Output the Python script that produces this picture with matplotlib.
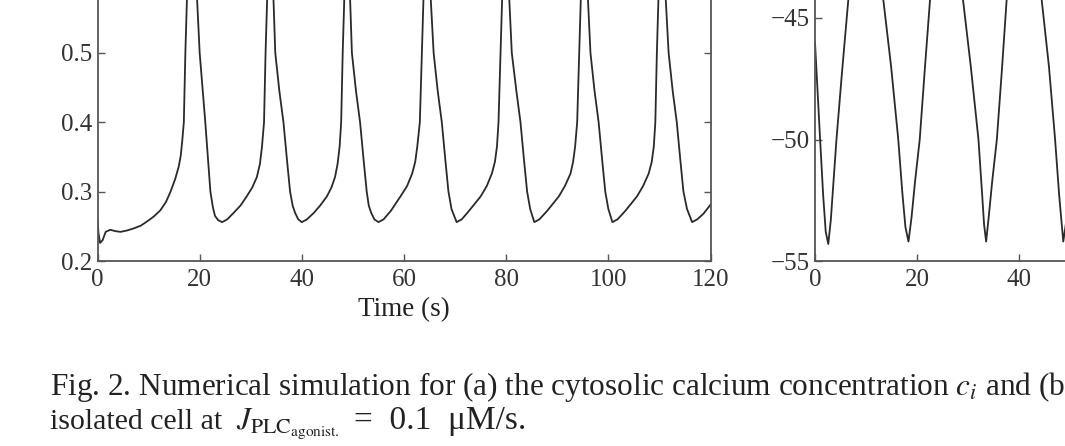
import matplotlib
matplotlib.use("Agg")
import matplotlib.pyplot as plt

# ---- data ----
# (a) cytosolic calcium concentration c_i (uM) vs time (s)
ca_time = [0.0, 0.2, 0.5, 1.0, 1.6, 2.5, 3.5, 4.5, 5.8, 7.1, 8.5, 9.7, 11.0, 12.3, 13.4, 14.3,
           15.2, 15.9, 16.3, 16.6, 16.9, 17.2, 17.6, 18.3, 18.9, 19.5, 20.0, 20.6, 21.1, 21.6,
           22.1, 22.6, 23.0, 23.6, 24.4, 25.4, 26.6, 28.0, 29.2, 30.3, 31.2, 31.8, 32.2, 32.6,
           32.9, 33.3, 33.8, 34.3, 34.8, 35.6, 36.4, 37.1, 37.7, 38.2, 38.7, 39.3, 40.0, 41.0,
           42.3, 43.6, 44.9, 45.8, 46.5, 47.0, 47.4, 47.7, 48.0, 48.4, 48.8, 49.3, 49.8, 50.6,
           51.4, 52.1, 52.7, 53.1, 53.6, 54.2, 55.0, 56.0, 57.4, 59.3, 60.6, 61.6, 62.2, 62.6,
           63.1, 63.5, 63.9, 64.4, 65.0, 65.8, 66.6, 67.4, 68.1, 68.7, 69.3, 70.3, 71.3, 72.7,
           75.0, 76.2, 77.2, 77.8, 78.2, 78.5, 78.9, 79.3, 79.7, 80.4, 81.1, 82.0, 82.8, 83.5,
           84.1, 84.7, 85.5, 86.5, 88.0, 90.3, 91.5, 92.6, 93.1, 93.5, 93.9, 94.3, 94.7, 95.1,
           95.8, 96.5, 97.3, 98.1, 98.8, 99.4, 100.0, 100.8, 101.8, 103.3, 105.6, 106.8, 107.9,
           108.5, 108.9, 109.2, 109.5, 109.9, 110.3, 111.0, 111.8, 112.6, 113.4, 114.1, 114.7,
           115.4, 116.4, 117.4, 118.6, 120.0]
ca_conc = [0.259, 0.240, 0.226, 0.230, 0.242, 0.245, 0.243, 0.242, 0.244, 0.247, 0.251, 0.257,
           0.264, 0.273, 0.285, 0.300, 0.318, 0.336, 0.352, 0.374, 0.400, 0.500, 0.600, 0.720,
           0.650, 0.576, 0.500, 0.445, 0.400, 0.350, 0.300, 0.277, 0.265, 0.259, 0.256, 0.260,
           0.269, 0.280, 0.293, 0.306, 0.321, 0.340, 0.365, 0.400, 0.500, 0.600, 0.720, 0.610,
           0.500, 0.445, 0.400, 0.345, 0.300, 0.280, 0.269, 0.260, 0.256, 0.260, 0.269, 0.280,
           0.293, 0.306, 0.321, 0.340, 0.365, 0.400, 0.500, 0.600, 0.720, 0.610, 0.500, 0.445,
           0.400, 0.345, 0.300, 0.280, 0.269, 0.260, 0.256, 0.260, 0.272, 0.293, 0.308, 0.326,
           0.343, 0.365, 0.400, 0.500, 0.600, 0.720, 0.610, 0.500, 0.445, 0.400, 0.345, 0.300,
           0.275, 0.256, 0.260, 0.272, 0.293, 0.308, 0.326, 0.343, 0.365, 0.400, 0.500, 0.600,
           0.720, 0.610, 0.500, 0.445, 0.400, 0.345, 0.300, 0.275, 0.256, 0.260, 0.272, 0.293,
           0.308, 0.326, 0.343, 0.365, 0.400, 0.500, 0.600, 0.720, 0.610, 0.500, 0.445, 0.400,
           0.345, 0.300, 0.275, 0.256, 0.260, 0.272, 0.293, 0.308, 0.326, 0.343, 0.365, 0.400,
           0.500, 0.600, 0.720, 0.610, 0.500, 0.445, 0.400, 0.345, 0.300, 0.275, 0.256, 0.260,
           0.268, 0.281]

# (b) membrane potential (mV) vs time (s)
vm_time = [0.0, 0.5, 1.0, 1.6, 2.1, 2.6, 3.1, 3.6, 4.2, 5.3, 6.5, 7.6, 8.8, 10.0, 11.2, 12.3,
           13.4, 14.9, 16.3, 17.1, 17.7, 18.3, 18.9, 19.6, 20.5, 21.5, 22.5, 23.6, 24.8, 25.8,
           26.8, 27.9, 29.0, 30.5, 32.0, 32.7, 33.1, 33.5, 34.0, 34.7, 35.6, 36.6, 37.5, 38.6,
           39.8, 41.0, 42.2, 43.3, 44.4, 45.8, 47.0, 47.8, 48.6, 49.3, 50.0, 50.8, 52.0, 53.2,
           54.5, 55.5]
vm_volt = [-46.0, -48.0, -50.0, -52.3, -53.8, -54.3, -53.3, -51.8, -50.0, -47.2, -44.3, -42.4,
           -41.2, -40.7, -41.1, -42.4, -44.3, -47.0, -50.0, -52.2, -53.6, -54.2, -53.2, -51.7,
           -50.0, -47.1, -44.3, -42.4, -41.2, -40.8, -41.1, -42.4, -44.3, -47.0, -50.0, -52.2,
           -53.5, -54.2, -53.2, -51.7, -50.0, -47.1, -44.3, -42.4, -41.2, -40.8, -41.1, -42.4,
           -44.3, -47.0, -50.0, -52.3, -54.2, -53.2, -51.7, -50.0, -47.0, -44.3, -42.4, -41.2]

ca_xticks = [0, 20, 40, 60, 80, 100, 120]
ca_yticks = [0.2, 0.3, 0.4, 0.5, 0.6, 0.7, 0.8]
ca_yticklabels = ["0.2", "0.3", "0.4", "0.5", "0.6", "0.7", "0.8"]
vm_xticks = [0, 20, 40, 60, 80, 100, 120]
vm_yticks = [-55, -50, -45, -40, -35]
vm_yticklabels = ["\u221255", "\u221250", "\u221245", "\u221240", "\u221235"]
xlabel_text = "Time (s)"
caption_line1 = r"Fig. 2. Numerical simulation for (a) the cytosolic calcium concentration $c_i$ and (b)"
caption_line2_a = "isolated cell at"
caption_line2_b = r"$J_{\mathrm{PLC}_{\mathrm{agonist.}}}$"
caption_line2_c = "=  0.1  \u03bcM/s."

# ---- style ----
plt.rcParams["font.family"] = ["Liberation Serif", "DejaVu Serif"]
plt.rcParams["mathtext.fontset"] = "stix"

W, H = 1065, 446
fig = plt.figure(figsize=(W / 100, H / 100), dpi=100)

line_col = "#2a2a2a"
spine_col = "#555555"
text_col = "#222222"
tick_fs = 18

def pos(x0, x1, ybot, ytop):
    return [x0 / W, (H - ybot) / H, (x1 - x0) / W, (ybot - ytop) / H]

# left panel: 0.2 at y=261 px, 69.4 px per 0.1
ax1 = fig.add_axes(pos(97.5, 710.5, 261, 261 - 6 * 69.4))
ax1.plot(ca_time, ca_conc, color=line_col, lw=1.3)
ax1.set_xlim(0, 120)
ax1.set_ylim(0.2, 0.8)
ax1.set_xticks(ca_xticks)
ax1.set_yticks(ca_yticks)
ax1.set_yticklabels(ca_yticklabels)
ax1.set_xlabel(xlabel_text, fontsize=19.5, labelpad=4)

# right panel: -55 at y=261 px, 24.3 px per mV
ax2 = fig.add_axes(pos(815, 1428, 261, 261 - 20 * 24.3))
ax2.plot(vm_time, vm_volt, color=line_col, lw=1.3)
ax2.set_xlim(0, 120)
ax2.set_ylim(-55, -35)
ax2.set_xticks(vm_xticks)
ax2.set_yticks(vm_yticks)
ax2.set_yticklabels(vm_yticklabels)

for ax in (ax1, ax2):
    for s in ax.spines.values():
        s.set_color(spine_col)
        s.set_linewidth(1.3)
    ax.tick_params(direction="in", length=5, width=1.0, color=spine_col,
                   top=True, right=True, labelsize=tick_fs, labelcolor="#333333")
    ax.tick_params(axis="x", pad=6)
    ax.tick_params(axis="y", pad=4)
    ax.xaxis.label.set_color(text_col)

fig.text(50 / W, (H - 395) / H, caption_line1, fontsize=22.5, va="baseline", ha="left",
         color=text_col)
y2 = (H - 429) / H
fig.text(50 / W, y2, caption_line2_a, fontsize=21.5, va="baseline", ha="left", color=text_col)
fig.text(236 / W, y2, caption_line2_b, fontsize=22.5, va="baseline", ha="left", color=text_col)
fig.text(354 / W, y2, caption_line2_c, fontsize=24, va="baseline", ha="left", color=text_col)

fig.savefig("out.png", dpi=100)
